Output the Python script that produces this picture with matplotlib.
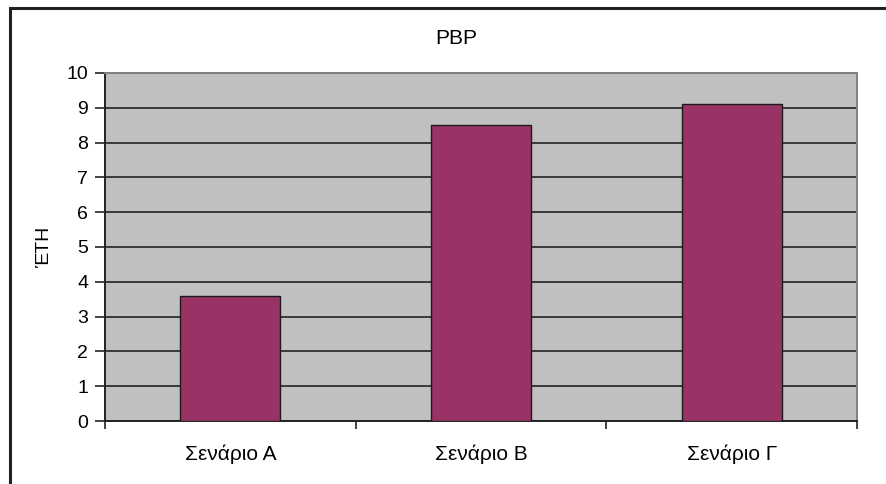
import matplotlib
matplotlib.use("Agg")
import matplotlib.pyplot as plt
from matplotlib.patches import Rectangle

plt.rcParams['font.family'] = ['Liberation Sans', 'DejaVu Sans']

categories = ["Σενάριο Α", "Σενάριο Β", "Σενάριο Γ"]
values = [3.6, 8.5, 9.1]
y_ticks = list(range(0, 11))
title = "PBP"
y_label = "ΈΤΗ"

W, H = 886, 484
fig = plt.figure(figsize=(W / 100, H / 100), dpi=100)

# outer chart frame (left and top edges visible)
fig.patches.append(Rectangle((10 / W, -0.1), 1.2, (H - 8) / H + 0.1, transform=fig.transFigure,
                             fill=False, edgecolor="#222222", linewidth=2.2, zorder=0))

ax = fig.add_axes([105 / W, (H - 421) / H, (857 - 105) / W, (421 - 73) / H])
ax.set_facecolor("#c0c0c0")

x = list(range(len(categories)))
ax.bar(x, values, width=0.4, color="#993366", edgecolor="#1a1a1a", linewidth=1.0, zorder=3)

ax.set_xlim(-0.5, len(categories) - 0.5)
ax.set_ylim(0, 10)
ax.set_yticks(y_ticks)
ax.set_yticklabels([str(t) for t in y_ticks], fontsize=14)
ax.yaxis.grid(True, color="#222222", linewidth=1.2, zorder=1)
ax.set_axisbelow(True)

# category labels centred, tick marks at category boundaries
ax.set_xticks(x)
ax.set_xticklabels(categories, fontsize=15)
ax.tick_params(axis="x", length=0, pad=17)
ax.set_xticks([i - 0.5 for i in range(len(categories) + 1)], minor=True)
ax.tick_params(axis="x", which="minor", length=6, width=1.2, color="#222222", direction="out")
ax.tick_params(axis="y", length=7, width=1.2, color="#222222", direction="out", pad=5)

for side in ("left", "bottom"):
    ax.spines[side].set_color("#222222")
    ax.spines[side].set_linewidth(1.4)
for side in ("top", "right"):
    ax.spines[side].set_color("#808080")
    ax.spines[side].set_linewidth(1.4)

ax.set_ylabel(y_label, fontsize=14, labelpad=10)
fig.text(456 / W, 1 - 38 / H, title, ha="center", va="center", fontsize=15)

fig.savefig("out.png", dpi=100)
